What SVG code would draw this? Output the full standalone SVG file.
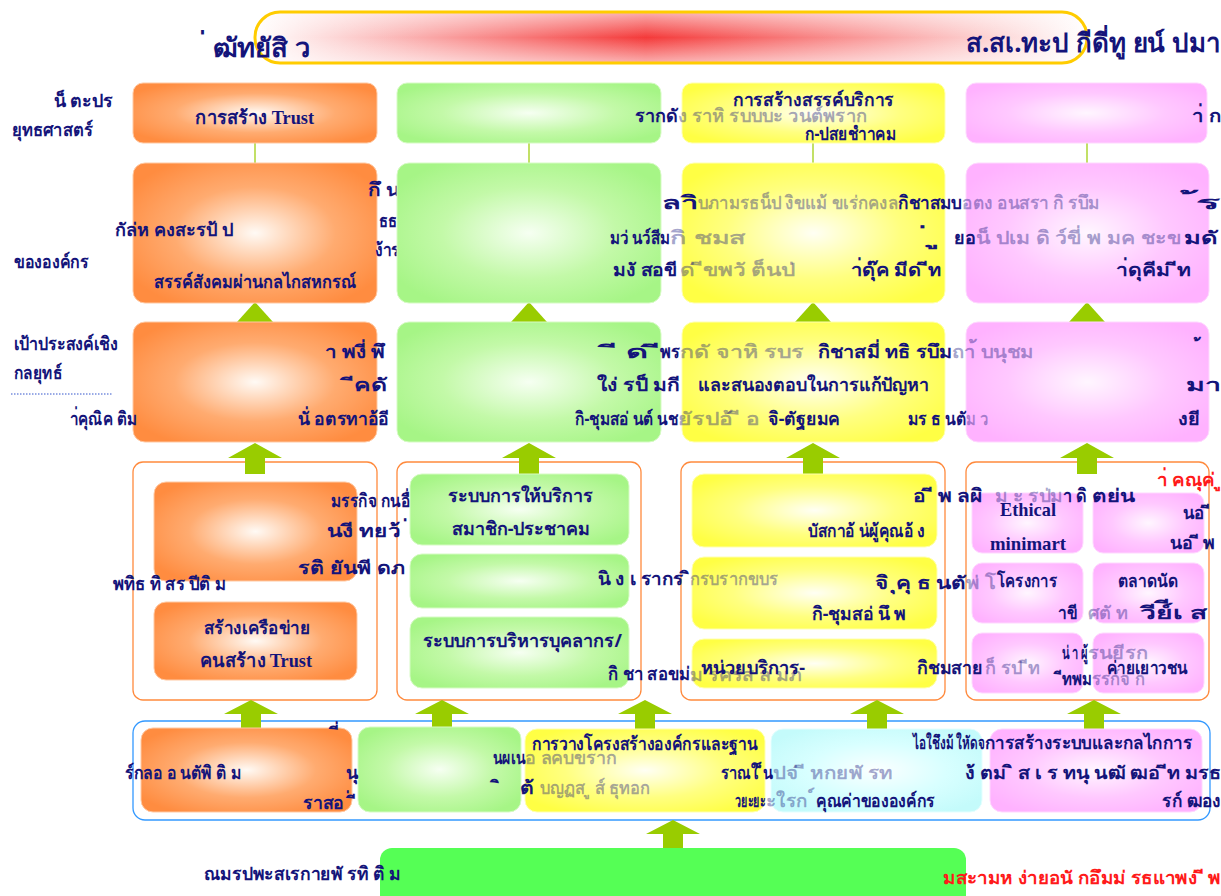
<svg xmlns="http://www.w3.org/2000/svg" width="1221" height="896" viewBox="0 0 1221 896">
<style>
text{font-family:"Noto Sans","DejaVu Sans",sans-serif;font-weight:bold;font-size:18px;fill:#14147a}
.f{fill-opacity:.38}
.s{font-family:"Liberation Serif","Noto Sans",serif;font-size:19px}
.r{fill:#ff1a1a}
.t{font-size:26px}
.ln{stroke:#99cc00;stroke-width:1.2}
.ar{fill:#99cc00}
.ctr{fill:none;stroke:#ff8a3d;stroke-width:1.3}
.blue{fill:none;stroke:#3399ff;stroke-width:1.3}
.o{fill:url(#go);stroke:#ffc9a3;stroke-width:1}
.g{fill:url(#gg);stroke:#d6fbc4;stroke-width:1}
.y{fill:url(#gy);stroke:#ffffb0;stroke-width:1}
.p{fill:url(#gp);stroke:#ffd8ff;stroke-width:1}
.c{fill:url(#gc);stroke:#e4ffff;stroke-width:1}
</style>
<defs>
<radialGradient id="go" cx="0.5" cy="0.5" r="0.6"><stop offset="0" stop-color="#fffaf5"/><stop offset="0.55" stop-color="#ffab70"/><stop offset="1" stop-color="#ff8c40"/></radialGradient>
<radialGradient id="gg" cx="0.5" cy="0.5" r="0.6"><stop offset="0" stop-color="#f6fff2"/><stop offset="0.55" stop-color="#c3f9a8"/><stop offset="1" stop-color="#a6f586"/></radialGradient>
<radialGradient id="gy" cx="0.5" cy="0.5" r="0.6"><stop offset="0" stop-color="#fffff4"/><stop offset="0.55" stop-color="#ffff80"/><stop offset="1" stop-color="#ffff44"/></radialGradient>
<radialGradient id="gp" cx="0.5" cy="0.5" r="0.6"><stop offset="0" stop-color="#fff6ff"/><stop offset="0.55" stop-color="#ffc8ff"/><stop offset="1" stop-color="#ffb2ff"/></radialGradient>
<radialGradient id="gc" cx="0.5" cy="0.5" r="0.6"><stop offset="0" stop-color="#fbffff"/><stop offset="0.55" stop-color="#d8ffff"/><stop offset="1" stop-color="#c4fbfb"/></radialGradient>
<linearGradient id="gb" x1="0" y1="0" x2="1" y2="0"><stop offset="0" stop-color="#ffffff"/><stop offset="0.47" stop-color="#f43a3a"/><stop offset="1" stop-color="#ffffff"/></linearGradient>
<linearGradient id="gbv" x1="0" y1="0" x2="0" y2="1"><stop offset="0" stop-color="#fff" stop-opacity=".6"/><stop offset="0.5" stop-color="#fff" stop-opacity="0"/><stop offset="1" stop-color="#fff" stop-opacity=".6"/></linearGradient>
</defs>
<rect width="1221" height="896" fill="#fff"/>

<g id="banner">
<rect x="255" y="12" width="832" height="51" rx="25" fill="url(#gb)"/>
<rect x="255" y="12" width="832" height="51" rx="25" fill="url(#gbv)" stroke="#ffcc00" stroke-width="3"/>
<text class="t" x="206" y="57" textLength="105" lengthAdjust="spacingAndGlyphs">่ ฒัทยัสิ  ว</text>
<text class="t" x="966" y="52" textLength="255" lengthAdjust="spacingAndGlyphs">ส.สเ.ทะป กีดี่ทู ยน์ ปมา</text>
</g>

<g id="containers">
<rect class="ctr" x="133" y="462" width="244" height="238" rx="10"/>
<rect class="ctr" x="397" y="462" width="244" height="238" rx="10"/>
<rect class="ctr" x="681" y="462" width="264" height="238" rx="10"/>
<rect class="ctr" x="966" y="462" width="243" height="238" rx="10"/>
<rect class="blue" x="133" y="721" width="1077" height="99" rx="12"/>
</g>

<g id="connectors">
<line class="ln" x1="255" y1="143" x2="255" y2="163"/>
<line class="ln" x1="529" y1="143" x2="529" y2="163"/>
<line class="ln" x1="813" y1="143" x2="813" y2="163"/>
<line class="ln" x1="1087" y1="143" x2="1087" y2="163"/>
<polygon class="ar" points="237,322 255,302 273,322"/>
<polygon class="ar" points="511,322 529,302 547,322"/>
<polygon class="ar" points="795,322 813,302 831,322"/>
<polygon class="ar" points="1069,322 1087,302 1105,322"/>
<path class="ar" d="M228,458 L255,443 L282,458 L265,458 L265,474 L245,474 L245,458 Z"/>
<path class="ar" d="M502,458 L529,443 L556,458 L539,458 L539,474 L519,474 L519,458 Z"/>
<path class="ar" d="M786,458 L813,443 L840,458 L823,458 L823,474 L803,474 L803,458 Z"/>
<path class="ar" d="M1060,458 L1087,443 L1114,458 L1097,458 L1097,474 L1077,474 L1077,458 Z"/>
<path class="ar" d="M224,714 L251,700 L278,714 L261,714 L261,729 L241,729 L241,714 Z"/>
<path class="ar" d="M415,714 L442,700 L469,714 L452,714 L452,729 L432,729 L432,714 Z"/>
<path class="ar" d="M618,714 L645,700 L672,714 L655,714 L655,729 L635,729 L635,714 Z"/>
<path class="ar" d="M850,714 L877,700 L904,714 L887,714 L887,729 L867,729 L867,714 Z"/>
<path class="ar" d="M1067,714 L1094,700 L1121,714 L1104,714 L1104,729 L1084,729 L1084,714 Z"/>
<path class="ar" d="M646,834 L673,820 L700,834 L683,834 L683,849 L663,849 L663,834 Z"/>
</g>

<g id="n-trust">
<rect class="o" x="133" y="83" width="244" height="60" rx="10"/>
<text class="s" x="195" y="124" textLength="119" lengthAdjust="spacingAndGlyphs">การสร้าง Trust</text>
</g>
<g id="n-green1"><rect class="g" x="397" y="83" width="264" height="60" rx="10"/></g>
<g id="n-service1">
<rect class="y" x="682" y="83" width="263" height="60" rx="10"/>
<text x="733" y="106" textLength="161" lengthAdjust="spacingAndGlyphs">การสร้างสรรค์บริการ</text>
<text x="635" y="122" textLength="43" lengthAdjust="spacingAndGlyphs">รากดั</text>
<text class="f" x="678" y="122" textLength="189" lengthAdjust="spacingAndGlyphs">ง ราหิ รบบบะ วนต์พราก</text>
<text x="805" y="140" textLength="91" lengthAdjust="spacingAndGlyphs">ก-ปสยชำาคม</text>
</g>
<g id="n-pink1">
<rect class="p" x="966" y="83" width="241" height="60" rx="10"/>
<text x="1192" y="122" textLength="29" lengthAdjust="spacingAndGlyphs">า่ ก</text>
</g>

<g id="n-orange2">
<rect class="o" x="133" y="163" width="244" height="140" rx="12"/>
<text x="115" y="236" textLength="118" lengthAdjust="spacingAndGlyphs">กัล่ห คงสะรป้ ป</text>
<text x="154" y="288" textLength="202" lengthAdjust="spacingAndGlyphs">สรรค์สังคมผ่านกลไกสหกรณ์</text>
<text x="368" y="196" textLength="32" lengthAdjust="spacingAndGlyphs">กึ น</text>
<text x="379" y="227" textLength="18" lengthAdjust="spacingAndGlyphs">ธธ</text>
<text x="375" y="256" textLength="25" lengthAdjust="spacingAndGlyphs">ง้าร</text>
</g>
<g id="n-green2"><rect class="g" x="397" y="163" width="264" height="140" rx="12"/></g>
<g id="n-yellow2"><rect class="y" x="682" y="163" width="263" height="140" rx="12"/></g>
<g id="n-pink2"><rect class="p" x="966" y="163" width="243" height="140" rx="12"/></g>
<g id="t-row2">
<text x="662" y="209" textLength="36" lengthAdjust="spacingAndGlyphs">ลาิ</text>
<text class="f" x="698" y="209" textLength="200" lengthAdjust="spacingAndGlyphs">บภามรธน็ป งิขแม้ ขเร่กคงล</text>
<text x="898" y="209" textLength="64" lengthAdjust="spacingAndGlyphs">กิชาสมบ</text>
<text class="f" x="962" y="209" textLength="138" lengthAdjust="spacingAndGlyphs">อตง อนสรา กิ  รบึม</text>
<text x="1196" y="209" textLength="25" lengthAdjust="spacingAndGlyphs">้ร</text>
<text x="610" y="244" textLength="60" lengthAdjust="spacingAndGlyphs">มว่ นว์สีม</text>
<text class="f" x="670" y="244" textLength="76" lengthAdjust="spacingAndGlyphs">กิ ชมส</text>
<text x="927" y="244" textLength="12" lengthAdjust="spacingAndGlyphs">่ ู</text>
<text x="954" y="244" textLength="22" lengthAdjust="spacingAndGlyphs">ยอ</text>
<text class="f" x="976" y="244" textLength="205" lengthAdjust="spacingAndGlyphs">น็ ปเม ดิ ว์ขี่ พ มค ชะข</text>
<text x="1184" y="244" textLength="34" lengthAdjust="spacingAndGlyphs">มดั</text>
<text x="613" y="276" textLength="64" lengthAdjust="spacingAndGlyphs">มงั สอขี</text>
<text class="f" x="680" y="276" textLength="115" lengthAdjust="spacingAndGlyphs">ด่ ีขพวั ต็นป่</text>
<text x="851" y="276" textLength="90" lengthAdjust="spacingAndGlyphs">า่ดุ๊ค มีด่ ีท</text>
<text x="1116" y="276" textLength="75" lengthAdjust="spacingAndGlyphs">า่ดุคีม่ ีท</text>
</g>

<g id="n-orange3">
<rect class="o" x="133" y="322" width="244" height="120" rx="12"/>
<text x="325" y="358" textLength="60" lengthAdjust="spacingAndGlyphs">า พงี่ พึ</text>
<text x="354" y="391" textLength="33" lengthAdjust="spacingAndGlyphs">ีคดั</text>
<text x="298" y="425" textLength="91" lengthAdjust="spacingAndGlyphs">นั่ อตรทาอ้อี</text>
</g>
<g id="n-green3"><rect class="g" x="397" y="322" width="264" height="120" rx="12"/></g>
<g id="n-yellow3"><rect class="y" x="682" y="322" width="263" height="120" rx="12"/></g>
<g id="n-pink3"><rect class="p" x="966" y="322" width="243" height="120" rx="12"/></g>
<g id="t-row3">
<text x="617" y="358" textLength="43" lengthAdjust="spacingAndGlyphs">ี ด่ ี</text>
<text x="660" y="358" textLength="20" lengthAdjust="spacingAndGlyphs">พร</text>
<text class="f" x="680" y="358" textLength="124" lengthAdjust="spacingAndGlyphs">กดั จาหิ รบร</text>
<text x="818" y="358" textLength="134" lengthAdjust="spacingAndGlyphs">กิชาสมี่ ทธิ รบึม</text>
<text class="f" x="952" y="358" textLength="82" lengthAdjust="spacingAndGlyphs">ถา้ บนุชม</text>
<text x="1200" y="356" textLength="10" lengthAdjust="spacingAndGlyphs">้</text>
<text x="597" y="391" textLength="83" lengthAdjust="spacingAndGlyphs">ใง่ รป็ มกี</text>
<text x="698" y="391" textLength="231" lengthAdjust="spacingAndGlyphs">และสนองตอบในการแก้ปัญหา</text>
<text x="1186" y="391" textLength="35" lengthAdjust="spacingAndGlyphs">มา</text>
<text x="575" y="425" textLength="103" lengthAdjust="spacingAndGlyphs">กิ-ชุมสอ่ นต์ นช</text>
<text class="f" x="678" y="425" textLength="82" lengthAdjust="spacingAndGlyphs">ยัรปอ้ ี อ</text>
<text x="768" y="425" textLength="72" lengthAdjust="spacingAndGlyphs">จิ-ตัฐยมค</text>
<text x="908" y="425" textLength="58" lengthAdjust="spacingAndGlyphs">มร ธ นตั</text>
<text class="f" x="966" y="425" textLength="22" lengthAdjust="spacingAndGlyphs">ม ว</text>
<text x="1178" y="425" textLength="22" lengthAdjust="spacingAndGlyphs">งยี</text>
</g>

<g id="n-orange4a"><rect class="o" x="154" y="482" width="203" height="99" rx="12"/></g>
<g id="n-network">
<rect class="o" x="154" y="602" width="203" height="78" rx="12"/>
<text x="204" y="634" textLength="106" lengthAdjust="spacingAndGlyphs">สร้างเครือข่าย</text>
<text class="s" x="200" y="667" textLength="112" lengthAdjust="spacingAndGlyphs">คนสร้าง Trust</text>
</g>
<g id="n-member-service">
<rect class="g" x="410" y="474" width="219" height="71" rx="12"/>
<text x="448" y="502" textLength="145" lengthAdjust="spacingAndGlyphs">ระบบการให้บริการ</text>
<text x="452" y="535" textLength="138" lengthAdjust="spacingAndGlyphs">สมาชิก-ประชาคม</text>
</g>
<g id="n-green4b"><rect class="g" x="410" y="554" width="219" height="54" rx="12"/></g>
<g id="n-hr">
<rect class="g" x="410" y="617" width="219" height="71" rx="12"/>
<text x="423" y="647" textLength="199" lengthAdjust="spacingAndGlyphs">ระบบการบริหารบุคลากร/</text>
</g>
<g id="n-yellow4a"><rect class="y" x="692" y="474" width="245" height="73" rx="12"/></g>
<g id="n-yellow4b"><rect class="y" x="692" y="557" width="245" height="72" rx="12"/></g>
<g id="n-service-unit">
<rect class="y" x="692" y="639" width="245" height="49" rx="12"/>
</g>
<g id="n-ethical">
<rect class="p" x="972" y="493" width="111" height="60" rx="10"/>
<text class="s" x="1000" y="516" textLength="56" lengthAdjust="spacingAndGlyphs">Ethical</text>
<text class="s" x="990" y="550" textLength="76" lengthAdjust="spacingAndGlyphs">minimart</text>
</g>
<g id="n-pink4b"><rect class="p" x="1093" y="493" width="111" height="60" rx="10"/></g>
<g id="n-project"><rect class="p" x="972" y="563" width="111" height="60" rx="10"/>
<text x="997" y="587" textLength="60" lengthAdjust="spacingAndGlyphs">โครงการ</text></g>
<g id="n-market"><rect class="p" x="1093" y="563" width="111" height="60" rx="10"/>
<text x="1118" y="587" textLength="60" lengthAdjust="spacingAndGlyphs">ตลาดนัด</text></g>
<g id="n-pink4e"><rect class="p" x="972" y="633" width="111" height="60" rx="10"/></g>
<g id="n-camp"><rect class="p" x="1093" y="633" width="111" height="60" rx="10"/>
<text x="1107" y="674" textLength="80" lengthAdjust="spacingAndGlyphs">ค่ายเยาวชน</text></g>
<g id="t-row4">
<text x="331" y="507" textLength="79" lengthAdjust="spacingAndGlyphs">มรรกิจ กนอื่</text>
<text x="327" y="537" textLength="81" lengthAdjust="spacingAndGlyphs">นงี ทยว้ ่</text>
<text x="298" y="574" textLength="107" lengthAdjust="spacingAndGlyphs">รติ ยันพี ดภ</text>
<text x="598" y="585" textLength="92" lengthAdjust="spacingAndGlyphs">นิ ง เ รากร ิ</text>
<text class="f" x="690" y="585" textLength="88" lengthAdjust="spacingAndGlyphs">กรบรากขบร</text>
<text x="608" y="680" textLength="82" lengthAdjust="spacingAndGlyphs">กิ ชา สอขม่</text>
<text class="f" x="690" y="681" textLength="112" lengthAdjust="spacingAndGlyphs">ม รครส ล มภ</text>
<text x="913" y="502" textLength="70" lengthAdjust="spacingAndGlyphs">อ่ ี พ ลผิ</text>
<text class="f" x="995" y="502" textLength="68" lengthAdjust="spacingAndGlyphs">ม ะ รป่ม</text>
<text x="1063" y="502" textLength="24" lengthAdjust="spacingAndGlyphs">า ดิ</text>
<text x="1092" y="502" textLength="43" lengthAdjust="spacingAndGlyphs">ตย่น</text>
<text x="808" y="537" textLength="117" lengthAdjust="spacingAndGlyphs">บัสกาอ้ น่ผู้คุณอ้ ง</text>
<text x="875" y="589" textLength="91" lengthAdjust="spacingAndGlyphs">จิ  ุคุ ธ นตั</text>
<text class="f" x="966" y="589" textLength="30" lengthAdjust="spacingAndGlyphs">พ่ โ</text>
<text x="812" y="620" textLength="94" lengthAdjust="spacingAndGlyphs">กิ-ชุมสอ่ นึ พ</text>
<text x="701" y="674" textLength="104" lengthAdjust="spacingAndGlyphs">หน่วยบริการ-</text>
<text x="917" y="674" textLength="66" lengthAdjust="spacingAndGlyphs">กิชมสาย</text>
<text class="f" x="985" y="674" textLength="55" lengthAdjust="spacingAndGlyphs">ก็ รป ีท</text>
<text class="r" x="1157" y="486" textLength="64" lengthAdjust="spacingAndGlyphs">า่ คณุค่ ู</text>
<text x="1183" y="519" textLength="27" lengthAdjust="spacingAndGlyphs">นอ่ ี</text>
<text x="1170" y="549" textLength="45" lengthAdjust="spacingAndGlyphs">นอ่ ี พ</text>
<text x="1058" y="619" textLength="19" lengthAdjust="spacingAndGlyphs">าขี</text>
<text class="f" x="1088" y="619" textLength="40" lengthAdjust="spacingAndGlyphs">ศตั  ท</text>
<text x="1140" y="619" textLength="67" lengthAdjust="spacingAndGlyphs">วีย์ีเ ส</text>
<text x="1062" y="659" textLength="26" lengthAdjust="spacingAndGlyphs">น่ า ผู้</text>
<text class="f" x="1088" y="659" textLength="60" lengthAdjust="spacingAndGlyphs">รนยีรก</text>
<text x="1062" y="685" textLength="30" lengthAdjust="spacingAndGlyphs">ีทพม</text>
<text class="f" x="1092" y="685" textLength="53" lengthAdjust="spacingAndGlyphs">รรก์จ ก</text>
</g>

<g id="n-orange5"><rect class="o" x="141" y="728" width="211" height="84" rx="12"/></g>
<g id="n-green5"><rect class="g" x="358" y="727" width="163" height="85" rx="12"/></g>
<g id="n-structure">
<rect class="y" x="525" y="729" width="240" height="83" rx="12"/>
<text x="532" y="750" textLength="225" lengthAdjust="spacingAndGlyphs">การวางโครงสร้างองค์กรและฐาน</text>
</g>
<g id="n-value"><rect class="c" x="771" y="729" width="211" height="83" rx="12"/>
<text x="816" y="807" textLength="119" lengthAdjust="spacingAndGlyphs">คุณค่าขององค์กร</text></g>
<g id="n-mechanism"><rect class="p" x="990" y="729" width="212" height="83" rx="12"/>
<text x="985" y="749" textLength="207" lengthAdjust="spacingAndGlyphs">การสร้างระบบและกลไกการ</text></g>
<g id="t-row5">
<text x="339" y="740" textLength="8" lengthAdjust="spacingAndGlyphs">ี่</text>
<text x="346" y="779" textLength="12" lengthAdjust="spacingAndGlyphs">นุ</text>
<text x="303" y="809" textLength="53" lengthAdjust="spacingAndGlyphs">ราสอ ่ ี</text>
<text x="493" y="764" textLength="32" lengthAdjust="spacingAndGlyphs">นผเน</text>
<text class="f" x="525" y="764" textLength="92" lengthAdjust="spacingAndGlyphs">อ ลคบขราก</text>
<text x="500" y="794" textLength="8" lengthAdjust="spacingAndGlyphs">ิ</text>
<text x="520" y="794" textLength="14" lengthAdjust="spacingAndGlyphs">ต้</text>
<text class="f" x="540" y="794" textLength="110" lengthAdjust="spacingAndGlyphs">บญฏส ู ส์ ธุทอก</text>
<text x="721" y="779" textLength="52" lengthAdjust="spacingAndGlyphs">ราณใ ็น</text>
<text class="f" x="773" y="779" textLength="120" lengthAdjust="spacingAndGlyphs">ปจ่ ี หกยพั รท</text>
<text x="735" y="807" textLength="31" lengthAdjust="spacingAndGlyphs">วยะยะ</text>
<text class="f" x="766" y="807" textLength="48" lengthAdjust="spacingAndGlyphs">ะใรก ์</text>
<text x="913" y="749" textLength="72" lengthAdjust="spacingAndGlyphs">ไอใชึงม้ ใหัดจ</text>
<text x="965" y="779" textLength="256" lengthAdjust="spacingAndGlyphs">ง้ ตม ิ ส เ ร ทนุ นฒั ฒอ่ ีท  มรธ</text>
<text x="1162" y="807" textLength="59" lengthAdjust="spacingAndGlyphs">รก์ ฒอง</text>
</g>

<g id="n-foundation">
<rect x="380" y="848" width="586" height="60" rx="12" fill="#55ff55"/>
<text class="r" x="943" y="884" textLength="278" lengthAdjust="spacingAndGlyphs">มสะามห ง่ายอนั กอึมม่ รธแาพง่ ี พ</text>
</g>

<g id="row-labels">
<text x="54" y="107" textLength="59" lengthAdjust="spacingAndGlyphs">น็ ตะปร</text>
<text x="12" y="136" textLength="81" lengthAdjust="spacingAndGlyphs">ยุทธศาสตร์</text>
<text x="14" y="268" textLength="75" lengthAdjust="spacingAndGlyphs">ขององค์กร</text>
<text x="14" y="350" textLength="104" lengthAdjust="spacingAndGlyphs">เป้าประสงค์เชิง</text>
<text x="14" y="379" textLength="48" lengthAdjust="spacingAndGlyphs">กลยุทธ์</text>
<line x1="11" y1="394" x2="112" y2="394" stroke="#3355cc" stroke-width="1" stroke-dasharray="1.5 1.5"/>
<text x="70" y="425" textLength="67" lengthAdjust="spacingAndGlyphs">า่คุณิค ติม</text>
<text x="113" y="590" textLength="113" lengthAdjust="spacingAndGlyphs">พทิธ ทิ สร ปีติ ม</text>
<text x="125" y="779" textLength="116" lengthAdjust="spacingAndGlyphs">ร์กลอ อ นตัพิ ติ ม</text>
<text x="204" y="880" textLength="197" lengthAdjust="spacingAndGlyphs">ณมรปพะสเรกายพั รทิ ติ ม</text>
</g>
</svg>
